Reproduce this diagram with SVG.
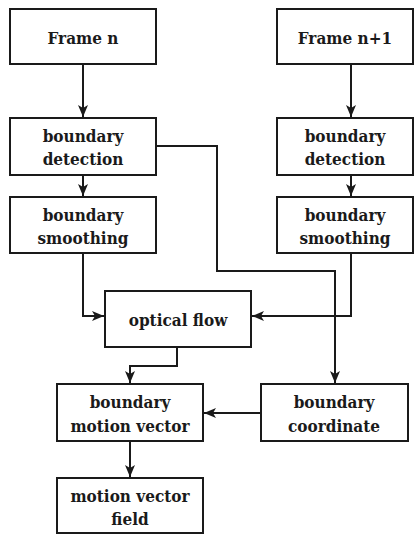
<svg xmlns="http://www.w3.org/2000/svg" width="420" height="535" viewBox="0 0 420 535">
  <defs>
    <marker id="arrow" viewBox="0 0 12 10" refX="12" refY="5" markerWidth="12" markerHeight="10" markerUnits="userSpaceOnUse" orient="auto">
      <path d="M0,0 L12,5 L0,10 L3,5 Z" fill="#1a1a1a"/>
    </marker>
  </defs>
  <style>
    .box { fill: #ffffff; stroke: #1a1a1a; stroke-width: 2; }
    .lbl { font-family: 'DejaVu Serif Condensed', 'DejaVu Serif', serif; font-stretch: condensed; font-weight: bold; font-size: 17px; fill: #1a1a1a; text-anchor: middle; }
    .edge { fill: none; stroke: #1a1a1a; stroke-width: 2; marker-end: url(#arrow); }
  </style>
  <rect width="420" height="535" fill="#ffffff"/>

  <g id="connectors">
    <path class="edge" d="M83,64 V117"/>
    <path class="edge" d="M351,64 V117"/>
    <path class="edge" d="M83,175 V196"/>
    <path class="edge" d="M351,175 V196"/>
    <path class="edge" d="M83,253 V316 H104"/>
    <path class="edge" d="M351,253 V316 H252"/>
    <path class="edge" d="M156,146 H217 V271 H335 V383"/>
    <path class="edge" d="M177,347 V366 H130 V383"/>
    <path class="edge" d="M261,413 H204"/>
    <path class="edge" d="M130,441 V477"/>
  </g>

  <g id="frame-n">
    <rect class="box" x="10" y="9" width="146" height="55"/>
    <text class="lbl" x="83" y="44">Frame n</text>
  </g>
  <g id="frame-n1">
    <rect class="box" x="277" y="9" width="136" height="55"/>
    <text class="lbl" x="345" y="44">Frame n+1</text>
  </g>
  <g id="detect-left">
    <rect class="box" x="10" y="118" width="146" height="57"/>
    <text class="lbl" x="83" y="142">boundary</text>
    <text class="lbl" x="83" y="165">detection</text>
  </g>
  <g id="detect-right">
    <rect class="box" x="277" y="118" width="136" height="57"/>
    <text class="lbl" x="345" y="142">boundary</text>
    <text class="lbl" x="345" y="165">detection</text>
  </g>
  <g id="smooth-left">
    <rect class="box" x="10" y="197" width="146" height="56"/>
    <text class="lbl" x="83" y="221">boundary</text>
    <text class="lbl" x="83" y="244">smoothing</text>
  </g>
  <g id="smooth-right">
    <rect class="box" x="277" y="197" width="136" height="56"/>
    <text class="lbl" x="345" y="221">boundary</text>
    <text class="lbl" x="345" y="244">smoothing</text>
  </g>
  <g id="optical-flow">
    <rect class="box" x="105" y="291" width="146" height="56"/>
    <text class="lbl" x="178" y="326">optical flow</text>
  </g>
  <g id="motion-vector">
    <rect class="box" x="57" y="384" width="146" height="57"/>
    <text class="lbl" x="130" y="408">boundary</text>
    <text class="lbl" x="130" y="432">motion vector</text>
  </g>
  <g id="coordinate">
    <rect class="box" x="261" y="384" width="147" height="57"/>
    <text class="lbl" x="334" y="408">boundary</text>
    <text class="lbl" x="334" y="432">coordinate</text>
  </g>
  <g id="vector-field">
    <rect class="box" x="57" y="478" width="146" height="55"/>
    <text class="lbl" x="130" y="502">motion vector</text>
    <text class="lbl" x="130" y="525">field</text>
  </g>
</svg>
